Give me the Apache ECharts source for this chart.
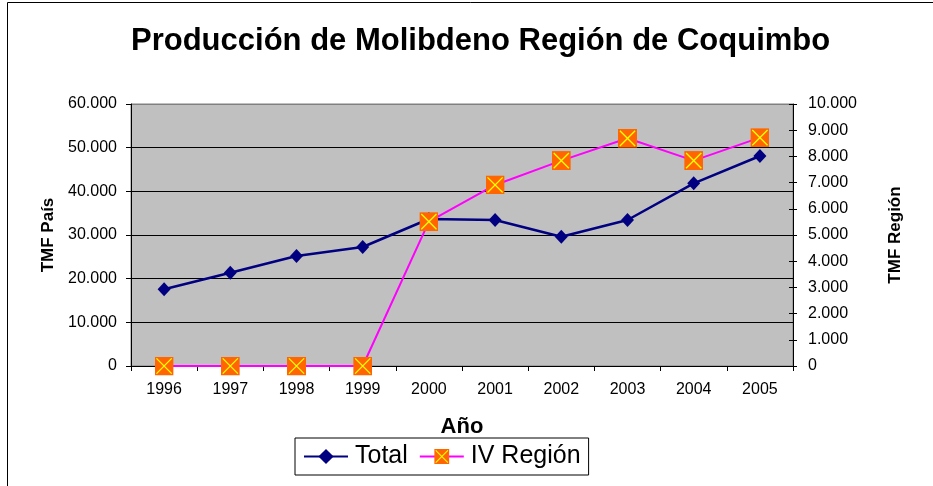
<!DOCTYPE html>
<html>
<head>
<meta charset="utf-8">
<title>Producción de Molibdeno Región de Coquimbo</title>
<style>
  html, body { margin: 0; padding: 0; background: #fff; }
  #chart { width: 933px; height: 486px; }
</style>
</head>
<body>
<div id="chart"></div>
<script src="https://cdn.jsdelivr.net/npm/echarts@6/dist/echarts.min.js"></script>
<script>
var years = ['1996', '1997', '1998', '1999', '2000', '2001', '2002', '2003', '2004', '2005'];
// TMF País (left axis)
var total = [17560, 21370, 25190, 27250, 33660, 33430, 29600, 33430, 41840, 48090];
// TMF Región (right axis)
var ivRegion = [0, 0, 0, 0, 5510, 6910, 7840, 8690, 7840, 8715];

var font = "'Liberation Sans', Arial, sans-serif";

// orange square with yellow cross
var squareSvg = '<svg xmlns="http://www.w3.org/2000/svg" width="20" height="20">' +
  '<rect x="0" y="0" width="20" height="20" fill="#FF6600"/>' +
  '<path d="M2 2 L18 18 M18 2 L2 18" stroke="#FFFF00" stroke-width="1.4" fill="none"/></svg>';
var squareSymbol = 'image://data:image/svg+xml;charset=utf-8,' + encodeURIComponent(squareSvg);

function miles(v) {
  return String(v).replace(/\B(?=(\d{3})+(?!\d))/g, '.');
}

var chart = echarts.init(document.getElementById('chart'));
chart.setOption({
  backgroundColor: '#fff',
  animation: false,
  textStyle: { fontFamily: font, color: '#000' },
  graphic: [{
    type: 'rect',
    shape: { x: 7.5, y: 2.5, width: 1000, height: 1000 },
    style: { fill: 'none', stroke: '#000', lineWidth: 1 },
    silent: true
  }],
  title: {
    text: 'Producción de Molibdeno Región de Coquimbo',
    left: 126,
    top: 21,
    textStyle: { fontFamily: font, fontSize: 31, fontWeight: 'bold', color: '#000' }
  },
  legend: {
    left: 295,
    top: 438,
    itemWidth: 44,
    itemHeight: 19,
    itemGap: 11,
    padding: [6, 8, 6, 8],
    borderColor: '#000',
    borderWidth: 1,
    backgroundColor: '#fff',
    textStyle: { fontFamily: font, fontSize: 25, color: '#000', padding: [0, 0, 0, 2] },
    data: ['Total', 'IV Región']
  },
  grid: {
    left: 131, right: 140, top: 104, bottom: 120,
    show: true,
    backgroundColor: '#C0C0C0',
    borderColor: '#808080',
    borderWidth: 1
  },
  xAxis: {
    type: 'category',
    data: years,
    boundaryGap: true,
    name: 'Año',
    nameLocation: 'middle',
    nameGap: 50,
    nameTextStyle: { fontFamily: font, fontSize: 22, fontWeight: 'bold', color: '#000' },
    axisLine: { lineStyle: { color: '#000', width: 1 } },
    axisTick: { show: true, length: 5, alignWithLabel: false, lineStyle: { color: '#000' } },
    axisLabel: { fontFamily: font, fontSize: 16, color: '#000', margin: 16 },
    splitLine: { show: false }
  },
  yAxis: [{
    type: 'value',
    min: 0, max: 60000, interval: 10000,
    position: 'left',
    name: 'TMF País',
    nameLocation: 'middle',
    nameGap: 69,
    nameTextStyle: { fontFamily: font, fontSize: 17, fontWeight: 'bold', color: '#000' },
    axisLine: { show: true, lineStyle: { color: '#000', width: 1 } },
    axisTick: { show: true, length: 5, lineStyle: { color: '#000' } },
    axisLabel: { fontFamily: font, fontSize: 16, color: '#000', margin: 14, formatter: miles },
    splitLine: { show: true, lineStyle: { color: ['#000', '#000', '#000', '#000', '#000', '#000', '#808080'], width: 1 } }
  }, {
    type: 'value',
    min: 0, max: 10000, interval: 1000,
    position: 'right',
    name: 'TMF Región',
    nameLocation: 'middle',
    nameGap: 94,
    nameTextStyle: { fontFamily: font, fontSize: 17, fontWeight: 'bold', color: '#000' },
    axisLine: { show: true, lineStyle: { color: '#000', width: 1 } },
    axisTick: { show: true, length: 4, lineStyle: { color: '#000' } },
    axisLabel: { fontFamily: font, fontSize: 16, color: '#000', margin: 15, formatter: miles },
    splitLine: { show: false }
  }, {
    // inner half of the crossing ticks on the right axis
    type: 'value',
    min: 0, max: 10000, interval: 1000,
    position: 'right',
    axisLine: { show: false },
    axisTick: { show: true, inside: true, length: 4, lineStyle: { color: '#000' } },
    axisLabel: { show: false },
    splitLine: { show: false }
  }],
  series: [{
    name: 'Total',
    type: 'line',
    yAxisIndex: 0,
    data: total,
    symbol: 'diamond',
    symbolSize: [13, 14],
    lineStyle: { color: '#000080', width: 2.5 },
    itemStyle: { color: '#000080' },
    z: 2
  }, {
    name: 'IV Región',
    type: 'line',
    yAxisIndex: 1,
    data: ivRegion,
    symbol: squareSymbol,
    symbolSize: 19,
    lineStyle: { color: '#FF00FF', width: 2 },
    itemStyle: { color: '#FF00FF' },
    z: 3
  }]
});
</script>
</body>
</html>
